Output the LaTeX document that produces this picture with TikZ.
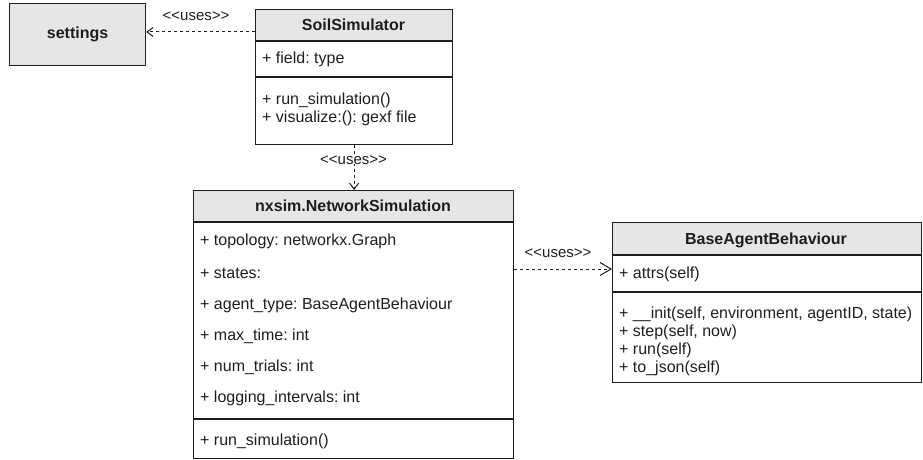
\documentclass[tikz,border=0pt]{standalone}
\usepackage{fontspec}
\setmainfont{Liberation Sans}
\usetikzlibrary{arrows.meta,calc}
\definecolor{hdr}{RGB}{230,230,230}
\definecolor{ink}{RGB}{30,30,30}
\frenchspacing
\begin{document}
\begin{tikzpicture}[x=1pt,y=-1pt,
  box/.style={draw=ink, line width=1.2pt, rectangle, inner sep=0pt, anchor=north west},
  sep/.style={draw=ink, line width=1.2pt},
  title/.style={font=\fontsize{16}{19}\selectfont\bfseries\frenchspacing, text=ink, inner sep=0pt},
  row/.style={anchor=west, inner sep=0pt, font=\fontsize{16}{19}\selectfont\frenchspacing, text=ink},
  lbl/.style={font=\fontsize{15}{18}\selectfont, text=ink, inner sep=1pt},
  dep/.style={draw=ink, dash pattern=on 3pt off 3pt, line width=1pt},
  smallhead/.style={-{Straight Barb[length=6pt,width=9pt,line width=1pt]}},
  bighead/.style={-{Straight Barb[length=11pt,width=13pt,line width=1pt]}}
]
\useasboundingbox (0,0) rectangle (923,460);

% settings
\node[box, fill=hdr, minimum width=136pt, minimum height=62pt] (settings) at (9,3) {};
\node[title] (settingsT) at (settings.center) {settings};

% SoilSimulator
\fill[hdr] (255,9) rectangle (452,41);
\node[box, minimum width=197pt, minimum height=135pt] (soil) at (255,9) {};
\draw[sep] (255,41) -- (452,41);
\draw[sep] (255,77) -- (452,77);
\node[title] (soilT) at (353.5,25) {SoilSimulator};
\node[row] (soilF) at (262,59) {+ field: type};
\node[row] (soilM1) at (262,100) {+ run\_simulation()};
\node[row] (soilM2) at (262,118) {+ visualize:(): gexf file};

% nxsim.NetworkSimulation
\fill[hdr] (193,190) rectangle (513,222);
\node[box, minimum width=320pt, minimum height=268pt] (net) at (193,190) {};
\draw[sep] (193,222) -- (513,222);
\draw[sep] (193,419) -- (513,419);
\node[title] (netT) at (353,206) {nxsim.NetworkSimulation};
\node[row] (netA1) at (200,241) {+ topology: networkx.Graph};
\node[row] (netA2) at (200,273) {+ states:};
\node[row] (netA3) at (200,305) {+ agent\_type: BaseAgentBehaviour};
\node[row] (netA4) at (200,336) {+ max\_time: int};
\node[row] (netA5) at (200,367) {+ num\_trials: int};
\node[row] (netA6) at (200,398) {+ logging\_intervals: int};
\node[row] (netM1) at (200,441) {+ run\_simulation()};

% BaseAgentBehaviour
\fill[hdr] (612,222) rectangle (921,255);
\node[box, minimum width=309pt, minimum height=160pt] (base) at (612,222) {};
\draw[sep] (612,255) -- (921,255);
\draw[sep] (612,292) -- (921,292);
\node[title] (baseT) at (766,240) {BaseAgentBehaviour};
\node[row] (baseA1) at (619,274) {+ attrs(self)};
\node[row] (baseM1) at (619,314) {+ \_\_init(self, environment, agentID, state)};
\node[row] (baseM2) at (619,332) {+ step(self, now)};
\node[row] (baseM3) at (619,350) {+ run(self)};
\node[row] (baseM4) at (619,368) {+ to\_json(self)};

% dependencies
\coordinate (soilL) at ($(soil.north west)+(0,23)$);
\draw[dep, smallhead] (soilL) -- (soilL -| settings.east);
\node[lbl] (l1) at (196,16) {<\kern0pt<uses>\kern0pt>};

\draw[dep, smallhead] (soil.south) -- (soil.south |- net.north);
\node[lbl, fill=white, inner ysep=0pt] (l2) at (353.5,160) {<\kern0pt<uses>\kern0pt>};

\coordinate (baseL) at ($(base.north west)+(0,47)$);
\draw[dep, bighead] (baseL -| net.east) -- (baseL);
\node[lbl] (l3) at (558,253) {<\kern0pt<uses>\kern0pt>};
\end{tikzpicture}
\end{document}
